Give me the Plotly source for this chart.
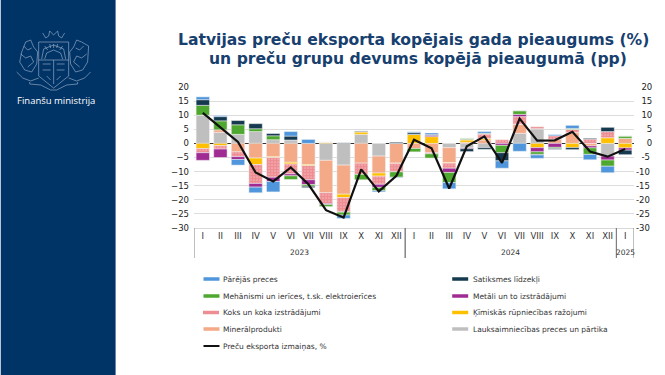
# Latvian goods export growth and contribution of goods groups
import plotly.graph_objects as go

W, H = 665, 375
PLOT_L, PLOT_R, PLOT_T, PLOT_B = 193.5, 634, 87, 228

months = ["I", "II", "III", "IV", "V", "VI", "VII", "VIII", "IX", "X", "XI", "XII"] * 2 + ["I"]
years = ["2023", "2024", "2025"]
year_spans = [(0, 11), (12, 23), (24, 24)]
y_ticks = [20, 15, 10, 5, 0, -5, -10, -15, -20, -25, -30]
# right axis labels are padded so they line up on the right like the original
y_labels_right = ["\u200720", "\u200715", "\u200710", "\u2007\u20075", "\u2007\u20070",
                  "\u2007-5", "-10", "-15", "-20", "-25", "-30"]

agri = [10, 3.9, 3.2, 4.2, 1.3, 1.2, 0, -6, -7.7, 3.2, -4.5, 0,
        0, 0, -1.5, -1.6, -1.5, 0, 3.6, 5.2, 0, 0, 0, -4.5, 0]
mineral = [0, 0.9, -3, -5.2, -4.7, -6.7, -7.5, -11.5, -10.3, -7, -6, -7,
           -1.8, -3.3, -5.3, 0.4, 1.2, 0, 3.2, 0, 1.4, 3.8, -0.9, 0, 1.8]
chem = [-1.8, -0.8, 0, -2.3, -0.3, -0.6, -0.4, 0.4, -1.2, 0.9, -1.1, -0.1,
        3.2, 2.4, -0.2, 0.8, 0.5, 0, 0, -1.5, 0, -1.5, 0, 2, -1.6]
wood = [-1.5, -1.2, -1.7, -6.7, -7, -3.5, -5, -3.8, -5.1, -4, -2.9, -3,
        0, -0.4, -1.8, 0.2, 1.7, 1.3, 2.7, 0.7, 1.3, 1.2, 1.5, 2.2, 0]
metal = [-2.7, -3, -1, -1.3, -1.5, -0.7, -1.7, -0.4, -0.1, 0, -1.1, 0,
         0, 0.5, -1.5, -0.3, 0, -0.7, 0.8, -1.5, -1.4, 0, -0.7, -1.4, -0.8]
mech = [3.5, 3.2, 3.4, 1, 1.4, -1.3, -0.6, -0.7, -1, -1.9, -1.2, -1.9,
        -1.2, -1.5, -3.6, 0.4, 0.2, -2.6, 1.3, -0.9, -0.4, 0.3, -2.3, -2.2, 0.8]
trans = [2, 1.5, 1.5, 1.8, 0.8, 1.4, -0.5, 0, 0.2, 0.3, 0, 0.4,
         0.6, 0.2, 0, -1, -0.6, -2.9, 0, -0.2, -0.3, -0.7, 0.3, 1.5, -1.6]
other = [1, 0.4, -2, -2, -3.7, 1.6, 1.4, 0, -1.2, 0, -0.4, -0.2,
         0.3, 0.6, -2.2, 0, 0.6, -2.6, -2.8, -1.2, 0.4, 1.1, -1.9, -2.3, 0]
total = [10.8, 5.5, 0.5, -10.3, -13.5, -8.5, -14.5, -23.7, -26.3, -9.2, -17, -11.5,
         1.3, -1.7, -16, -1, 2.5, -6.9, 8.8, 1, 1.1, 4.1, -2.9, -4.7, -2]

NAVY = "#003366"
TITLE = "#17406f"
TEXT = "#333333"
C_OTHER, C_TRANS, C_MECH, C_METAL = "#4f96dc", "#15394f", "#4ea72e", "#a02b93"
C_WOOD, C_CHEM, C_MINERAL, C_AGRI = "#dd1c26", "#ffc000", "#f4a987", "#bfbfbf"


def px(x):
    return (x - PLOT_L) / (PLOT_R - PLOT_L)


def py(y):
    return (PLOT_B - y) / (PLOT_B - PLOT_T)


def path(points, close=False):
    s = "M" + " L".join(f"{px(x):.4f},{py(y):.4f}" for x, y in points)
    return s + (" Z" if close else "")


x_pos = list(range(len(months)))
fig = go.Figure()

# stacking order: agriculture sits next to the zero line
for name, vals, col in [("Lauksaimniecības preces un pārtika", agri, C_AGRI),
                        ("Minerālprodukti", mineral, C_MINERAL),
                        ("Ķīmiskās rūpniecības ražojumi", chem, C_CHEM)]:
    fig.add_trace(go.Bar(x=x_pos, y=vals, name=name, marker_color=col,
                         marker_line=dict(color="#f3f3f3", width=0.5)))
fig.add_trace(go.Bar(x=x_pos, y=wood, name="Koks un koka izstrādājumi",
                     marker=dict(color="white", line=dict(color="#f3f3f3", width=0.5),
                                 pattern=dict(shape=".", fgcolor=C_WOOD, bgcolor="white",
                                              size=3, solidity=0.85))))
for name, vals, col in [("Metāli un to izstrādājumi", metal, C_METAL),
                        ("Mehānismi un ierīces, t.sk. elektroierīces", mech, C_MECH),
                        ("Satiksmes līdzekļi", trans, C_TRANS),
                        ("Pārējās preces", other, C_OTHER)]:
    fig.add_trace(go.Bar(x=x_pos, y=vals, name=name, marker_color=col,
                         marker_line=dict(color="#f3f3f3", width=0.5)))

fig.add_trace(go.Scatter(x=x_pos, y=total, name="Preču eksporta izmaiņas, %", mode="lines",
                         yaxis="y2", line=dict(color="#111111", width=2.2)))

shapes = []
annots = []

# left panel
shapes.append(dict(type="rect", xref="paper", yref="paper", x0=px(0), x1=px(115), y0=py(0), y1=py(H),
                   fillcolor=NAVY, line_width=0, layer="below"))

# coat of arms, only a rough outline
EMB = dict(type="path", xref="paper", yref="paper", line=dict(color="#a9bbd2", width=0.6))
emblem = [
    ([(38, 42), (68, 42), (68, 76), (53, 88), (38, 76)], True),
    ([(38, 60), (68, 60)], False),
    ([(53, 60), (53, 84)], False),
    ([(44, 59), (46, 53), (53, 50), (60, 53), (62, 59)], False),
    ([(41, 59), (43, 49), (53, 45), (63, 49), (65, 59)], False),
    ([(42, 33), (45, 38), (48, 36), (49, 31), (53, 35), (57, 31), (58, 36), (61, 38), (64, 33)], False),
    ([(25, 42), (30, 40), (33, 47), (37, 52), (36, 64), (31, 72), (24, 70), (19, 62), (21, 52), (25, 42)], True),
    ([(20, 54), (25, 58), (30, 56), (33, 62), (27, 67)], False),
    ([(23, 46), (27, 50), (31, 48)], False),
    ([(16, 72), (22, 78), (30, 81), (38, 78)], False),
    ([(81, 42), (76, 40), (73, 47), (69, 52), (70, 64), (75, 72), (82, 70), (87, 62), (88, 46), (81, 42)], True),
    ([(86, 54), (81, 58), (76, 56), (73, 62), (79, 67)], False),
    ([(83, 46), (79, 50), (75, 48)], False),
    ([(90, 72), (84, 78), (76, 81), (68, 78)], False),
    ([(29, 82), (29, 84), (40, 85), (50, 90), (56, 90), (66, 85), (77, 84), (77, 82)], False),
    ([(47, 50), (44, 46)], False), ([(50, 48), (49, 44)], False), ([(53, 48), (53, 44)], False),
    ([(56, 48), (57, 44)], False), ([(59, 50), (62, 46)], False),
    ([(42, 64), (50, 64)], False), ([(42, 70), (50, 70)], False), ([(56, 64), (64, 64)], False),
    ([(56, 70), (64, 70)], False), ([(46, 76), (50, 80)], False), ([(60, 76), (56, 80)], False),
]
for pts, closed in emblem:
    shapes.append(dict(EMB, path=path(pts, closed)))

annots.append(dict(x=px(14), y=py(100.5), xref="paper", yref="paper", xanchor="left", yanchor="middle",
                   text="Finanšu ministrija", showarrow=False,
                   font=dict(family="Open Sans", size=9.5, color="white")))

# title, second line is offset slightly to the right
for txt, cx, cy in [("Latvijas preču eksporta kopējais gada pieaugums (%)", 413, 40),
                    ("un preču grupu devums kopējā pieaugumā (pp)", 418, 59)]:
    annots.append(dict(x=px(cx), y=py(cy), xref="paper", yref="paper", xanchor="center", yanchor="middle",
                       text=f"<b>{txt}</b>", showarrow=False,
                       font=dict(family="DejaVu Sans", size=15.6, color=TITLE)))

# year labels and dividers under the months
for year, (first, last) in zip(years, year_spans):
    annots.append(dict(x=(first + last) / 2, y=py(252.5), xref="x", yref="paper", xanchor="center",
                       yanchor="middle", text=year, showarrow=False,
                       font=dict(family="DejaVu Sans", size=7.5, color=TEXT)))
    for edge in (first - 0.5, last + 0.5):
        shapes.append(dict(type="line", xref="x", yref="paper", x0=edge, x1=edge, y0=py(228), y1=py(258),
                           line=dict(color="#7f7f7f", width=1)))

# legend drawn by hand to get the wide flat swatches of the original
legend_rows = [
    (279, "Pārējās preces", C_OTHER, "Satiksmes līdzekļi", C_TRANS),
    (296, "Mehānismi un ierīces, t.sk. elektroierīces", C_MECH, "Metāli un to izstrādājumi", C_METAL),
    (312.5, "Koks un koka izstrādājumi", C_WOOD, "Ķīmiskās rūpniecības ražojumi", C_CHEM),
    (329, "Minerālprodukti", C_MINERAL, "Lauksaimniecības preces un pārtika", C_AGRI),
    (346, "Preču eksporta izmaiņas, %", "#111111", None, None),
]
for row_y, left_name, left_col, right_name, right_col in legend_rows:
    for name, col, sx, tx in [(left_name, left_col, 203, 221), (right_name, right_col, 452, 470.5)]:
        if name is None:
            continue
        line = dict(color=col, width=2 if col == "#111111" else 3.5)
        if col == C_WOOD:
            line["dash"] = "1px,1px"
        shapes.append(dict(type="line", xref="paper", yref="paper", x0=px(sx), x1=px(sx + 16),
                           y0=py(row_y), y1=py(row_y), line=line))
        annots.append(dict(x=px(tx), y=py(row_y), xref="paper", yref="paper", xanchor="left",
                           yanchor="middle", text=name, showarrow=False,
                           font=dict(family="DejaVu Sans", size=7.5, color=TEXT)))

fig.update_layout(
    width=W, height=H, autosize=False,
    margin=dict(l=PLOT_L, r=W - PLOT_R, t=PLOT_T, b=H - PLOT_B, pad=0),
    paper_bgcolor="white", plot_bgcolor="white",
    barmode="relative", bargap=0.24, showlegend=False,
    shapes=shapes, annotations=annots,
    font=dict(family="DejaVu Sans", size=8, color=TEXT),
    xaxis=dict(range=[-0.5, 24.5], tickmode="array", tickvals=x_pos, ticktext=months, tickangle=0,
               showgrid=False, zeroline=False, ticks="", showline=True, linecolor="#d9d9d9", linewidth=1,
               tickfont=dict(family="DejaVu Sans", size=8.5, color=TEXT)),
    yaxis=dict(range=[-30, 20], tickmode="array", tickvals=y_ticks, showgrid=True, gridcolor="#dddddd",
               gridwidth=1, zeroline=True, zerolinecolor="#333333", zerolinewidth=1, ticks="",
               ticklabelstandoff=4, tickfont=dict(family="DejaVu Sans", size=8.5, color="#222222")),
    yaxis2=dict(range=[-30, 20], tickmode="array", tickvals=y_ticks, ticktext=y_labels_right,
                overlaying="y", side="right", showgrid=False, zeroline=False, ticks="",
                ticklabelstandoff=1, tickfont=dict(family="DejaVu Sans", size=8.5, color="#222222")),
)

# the page's default body margin would push the chart 8px off
fig.write_html("out.html", config={"displayModeBar": False},
               post_script="document.body.style.margin='0';document.documentElement.style.overflow='hidden';")
